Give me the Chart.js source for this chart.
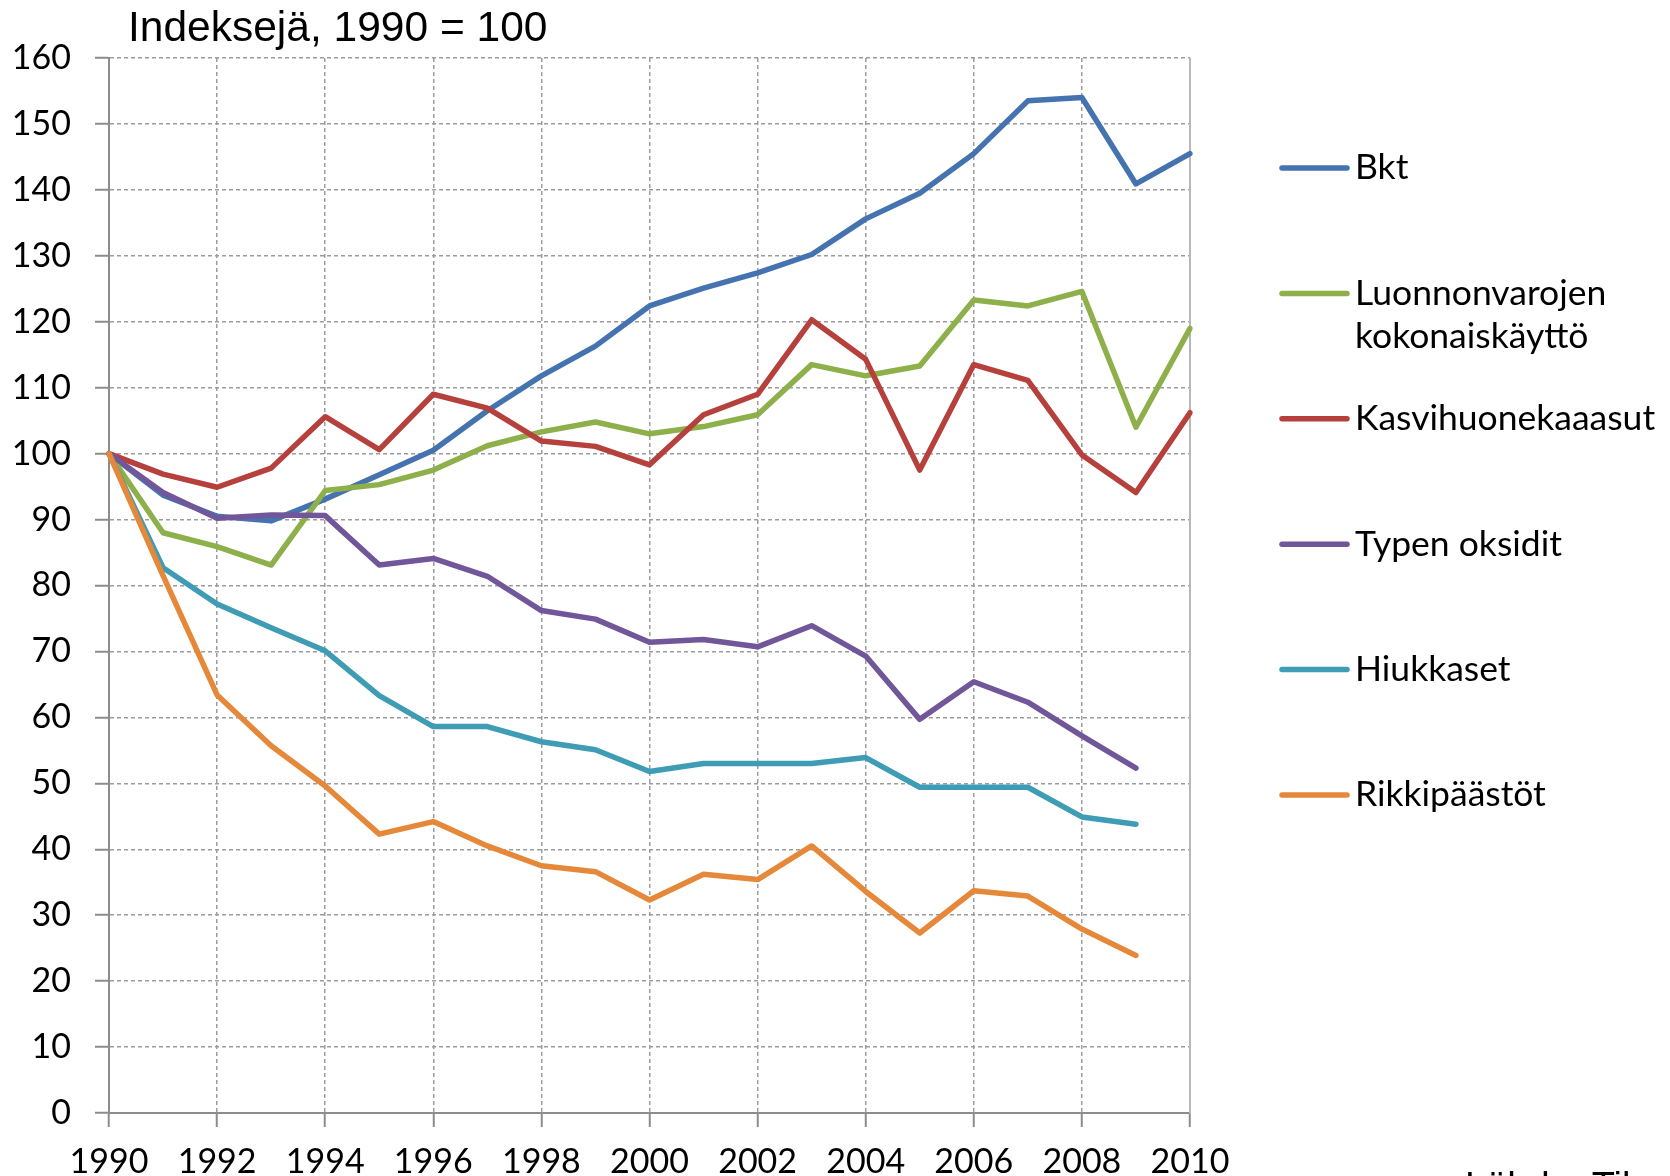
<!DOCTYPE html>
<html lang="fi">
<head>
<meta charset="UTF-8">
<title>Indeksejä, 1990 = 100</title>
<script src="https://cdn.jsdelivr.net/npm/chart.js@4"></script>
<style>
  * { margin: 0; padding: 0; box-sizing: border-box; }
  body { background: #fff; width: 1670px; height: 1176px; overflow: hidden; }
  .wrap { position: relative; width: 1670px; height: 1176px; }
</style>
</head>
<body>
<div class="wrap"><canvas id="chart" width="1670" height="1176"></canvas></div>
<script>
  // Vuodet ja sarjat (1990 = 100), luettu kuvasta
  const years = [1990, 1991, 1992, 1993, 1994, 1995, 1996, 1997, 1998, 1999, 2000,
                 2001, 2002, 2003, 2004, 2005, 2006, 2007, 2008, 2009, 2010];

  const bkt =         [100, 93.7, 90.5, 89.8, 93.1, 96.8, 100.5, 106.5, 111.8, 116.3, 122.4,
                       125.1, 127.4, 130.2, 135.6, 139.5, 145.5, 153.5, 154.0, 140.9, 145.5];
  const luonnonvarat = [100, 88.0, 85.9, 83.1, 94.4, 95.3, 97.5, 101.2, 103.3, 104.8, 103.0,
                       104.1, 105.9, 113.5, 111.8, 113.3, 123.3, 122.4, 124.6, 104.0, 119.0];
  const kasvihuone =  [100, 96.9, 94.9, 97.8, 105.6, 100.6, 109.0, 106.9, 101.9, 101.1, 98.3,
                       105.9, 109.0, 120.3, 114.3, 97.5, 113.5, 111.1, 99.8, 94.1, 106.2];
  const typenOksidit = [100, 94.1, 90.2, 90.7, 90.6, 83.1, 84.1, 81.4, 76.2, 74.9, 71.4,
                       71.8, 70.7, 73.9, 69.3, 59.7, 65.4, 62.3, 57.2, 52.3, null];
  const hiukkaset =   [100, 82.7, 77.2, 73.6, 70.1, 63.3, 58.6, 58.6, 56.3, 55.1, 51.8,
                       53.0, 53.0, 53.0, 53.9, 49.4, 49.4, 49.4, 44.9, 43.8, null];
  const rikki =       [100, 81.5, 63.4, 55.7, 49.6, 42.3, 44.2, 40.5, 37.5, 36.6, 32.3,
                       36.2, 35.4, 40.5, 33.6, 27.3, 33.7, 32.9, 27.9, 23.9, null];

  const seriesNames = ['Bkt', 'Luonnonvarojen kokonaiskäyttö', 'Kasvihuonekaaasut',
                       'Typen oksidit', 'Hiukkaset', 'Rikkipäästöt'];
  const seriesData = [bkt, luonnonvarat, kasvihuone, typenOksidit, hiukkaset, rikki];
  const seriesColors = ['#4573B0', '#8DB04B', '#B5403C', '#71579A', '#3F9CB5', '#E5883A'];

  const tickFont = { family: 'Lato', size: 34 };
  const gridColor = '#9c9c9c';
  const axisColor = '#8c8c8c';

  // Otsikko, selite ja lähde piirretään itse
  const decorations = {
    id: 'decorations',
    beforeDatasetsDraw(chart) {
      const { ctx, chartArea } = chart;
      ctx.save();
      ctx.strokeStyle = '#b8b8b8';
      ctx.lineWidth = 2;
      ctx.beginPath();
      ctx.moveTo(chartArea.right, chartArea.top);
      ctx.lineTo(chartArea.right, chartArea.bottom);
      ctx.stroke();
      ctx.restore();
    },
    afterDraw(chart) {
      const { ctx, chartArea } = chart;
      ctx.save();

      ctx.fillStyle = '#000';
      ctx.font = '42.5px "Liberation Sans", Arial, sans-serif';
      ctx.textBaseline = 'middle';
      ctx.textAlign = 'left';
      ctx.fillText('Indeksejä, 1990 = 100', 128, 29);

      // selite
      const x0 = chartArea.right + 92;
      const x1 = chartArea.right + 157;
      const tx = chartArea.right + 165;
      ctx.font = '35.5px Lato, sans-serif';
      ctx.lineCap = 'round';
      ctx.lineWidth = 5.5;
      chart.data.datasets.forEach((ds, i) => {
        const y = 168 + i * 125.4;
        ctx.strokeStyle = ds.borderColor;
        ctx.beginPath();
        ctx.moveTo(x0, y);
        ctx.lineTo(x1, y);
        ctx.stroke();
        const lines = ds.label.length > 20 ? ds.label.split(' ') : [ds.label];
        lines.forEach((t, k) => ctx.fillText(t, tx, y + k * 43));
      });

      // lähde (leikkautuu alareunasta)
      ctx.font = '38px "Liberation Sans", Arial, sans-serif';
      ctx.textBaseline = 'alphabetic';
      ctx.fillText('Lähde: Tilastokeskus', 1465, 1199);
      ctx.restore();
    }
  };

  new Chart(document.getElementById('chart'), {
    type: 'line',
    data: {
      labels: years,
      datasets: seriesData.map((d, i) => ({
        label: seriesNames[i],
        data: d,
        borderColor: seriesColors[i],
        backgroundColor: seriesColors[i],
        borderWidth: 5.5,
        borderJoinStyle: 'round',
        borderCapStyle: 'round',
        pointRadius: 0,
        tension: 0,
        fill: false,
        order: seriesData.length - i
      }))
    },
    options: {
      responsive: false,
      animation: false,
      layout: { padding: { top: 58, right: 480, left: 0, bottom: 0 } },
      plugins: {
        legend: { display: false },
        tooltip: { enabled: false }
      },
      scales: {
        x: {
          offset: false,
          grid: {
            color: c => c.index === years.length - 1 ? 'rgba(0,0,0,0)' : gridColor,
            lineWidth: 1.5,
            tickLength: 14,
            tickColor: axisColor,
            tickWidth: 2,
            tickBorderDash: []
          },
          border: { color: axisColor, width: 2, dash: [4, 3] },
          ticks: {
            autoSkip: false,
            maxRotation: 0,
            padding: 15,
            color: '#000',
            font: tickFont,
            callback: (v, i) => (i % 2 === 0 ? String(years[i]) : null)
          },
          afterFit: s => { s.height = 63; }
        },
        y: {
          min: 0,
          max: 160,
          grid: {
            color: gridColor,
            lineWidth: 1.5,
            tickLength: 14,
            tickColor: axisColor,
            tickWidth: 2,
            tickBorderDash: []
          },
          border: { color: axisColor, width: 2, dash: [4, 3] },
          ticks: { stepSize: 10, padding: 24, color: '#000', font: tickFont },
          afterFit: s => { s.width = 109; }
        }
      }
    },
    plugins: [decorations]
  });
</script>
</body>
</html>
